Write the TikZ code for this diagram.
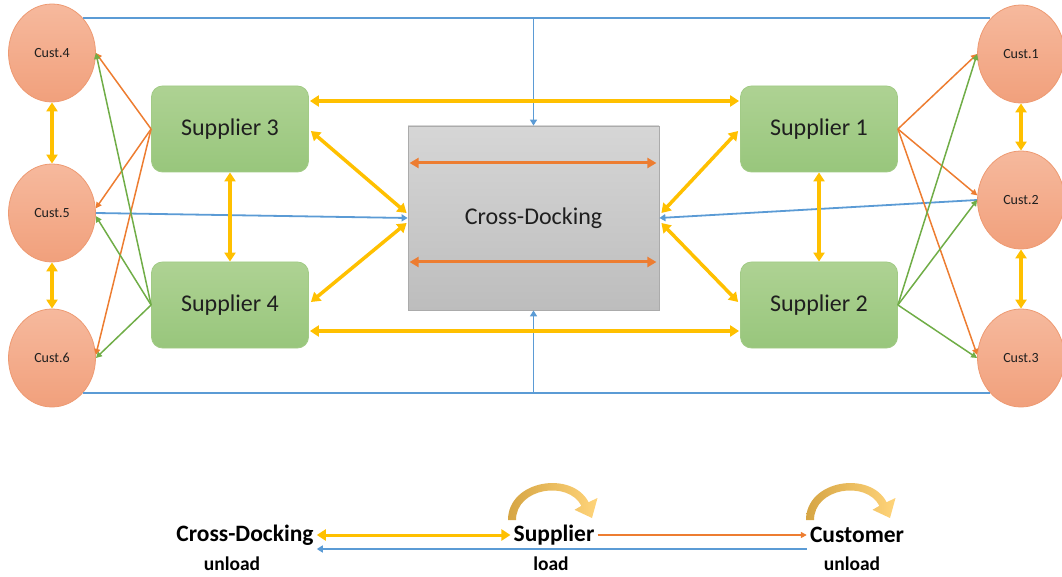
\documentclass[tikz,border=0pt]{standalone}
\usepackage{fontspec}
\setmainfont{Carlito}
\usetikzlibrary{arrows.meta,shapes.geometric,calc}

\definecolor{ylw}{HTML}{FFC000}
\definecolor{org}{HTML}{ED7D31}
\definecolor{grn}{HTML}{70AD47}
\definecolor{blu}{HTML}{5B9BD5}
\definecolor{custtop}{HTML}{F6B99D}
\definecolor{custbot}{HTML}{F1A07C}
\definecolor{custline}{HTML}{EE9A72}
\definecolor{supptop}{HTML}{AED293}
\definecolor{suppbot}{HTML}{98C67C}
\definecolor{suppline}{HTML}{A2CB86}
\definecolor{docktop}{HTML}{D6D6D6}
\definecolor{dockbot}{HTML}{BDBDBD}
\definecolor{dockline}{HTML}{ABABAB}
\definecolor{arcL}{HTML}{D6A544}
\definecolor{arcR}{HTML}{FFD47A}
\definecolor{txt}{HTML}{1F1F1F}

\tikzset{
  cust/.style={ellipse, minimum width=87pt, minimum height=98pt, inner sep=0pt,
    draw=custline, line width=0.8pt, top color=custtop, bottom color=custbot,
    text=txt, font=\fontsize{14}{14}\selectfont},
  supp/.style={rectangle, rounded corners=11pt, minimum width=157pt, minimum height=86pt,
    draw=suppline, line width=0.8pt, top color=supptop, bottom color=suppbot,
    text=txt, font=\fontsize{24}{24}\selectfont},
  dock/.style={rectangle, minimum width=251pt, minimum height=184pt,
    draw=dockline, line width=0.8pt, top color=docktop, bottom color=dockbot,
    text=txt, font=\fontsize{24}{24}\selectfont},
  leg/.style={inner sep=3pt, text=black, font=\fontsize{23.5}{23.5}\selectfont\bfseries},
  legsub/.style={inner sep=0pt, text=black, font=\fontsize{19.5}{19.5}\selectfont\bfseries},
  ya/.style={draw=ylw, line width=3.5pt,
    {Triangle[width=11pt,length=9pt]}-{Triangle[width=11pt,length=9pt]}},
  oa/.style={draw=org, line width=3pt,
    {Triangle[width=10pt,length=9pt]}-{Triangle[width=10pt,length=9pt]}},
  thin/.style={line width=1.5pt, -{Triangle[width=6pt,length=6pt]}},
  or/.style={thin, draw=org},
  gr/.style={thin, draw=grn},
  bl/.style={draw=blu, line width=1.8pt},
  blarrow/.style={bl, -{Triangle[width=7pt,length=6pt]}},
  turn/.pic={
    \path[left color=arcL, right color=arcR]
      (-4,0) .. controls (-4,-40) and (60,-50) .. (76.6,-17.8)
      -- (85.5,-22) -- (80,-2) -- (62.5,-10.2) -- (69.4,-14.2)
      .. controls (56,-40) and (4,-32) .. (4,0) -- cycle;
  }
}

\begin{document}
\begin{tikzpicture}[x=1pt, y=-1pt]
\useasboundingbox (0,0) rectangle (1062,577);

% customers
\node[cust] (c4) at (52,53)  {Cust.4};
\node[cust] (c5) at (52,213) {Cust.5};
\node[cust] (c6) at (52,358) {Cust.6};
\node[cust] (c1) at (1021,54)  {Cust.1};
\node[cust] (c2) at (1021,200) {Cust.2};
\node[cust] (c3) at (1021,358) {Cust.3};

% suppliers and the cross-dock
\node[supp] (s3) at (230,129) {Supplier 3};
\node[supp] (s4) at (230,305) {Supplier 4};
\node[supp] (s1) at (819,129) {Supplier 1};
\node[supp] (s2) at (819,305) {Supplier 2};
\node[dock] (cd) at (533.5,218) {Cross-Docking};

% blue return lines
\draw[bl] (c4.north east) -- (c4.north east -| c1.north west);
\coordinate (tj) at (cd.north |- c4.north east);
\draw[blarrow] (tj) -- (cd.north);
\draw[bl] (c6.south east) -- (c6.south east -| c3.south west);
\coordinate (bj) at (cd.south |- c6.south east);
\draw[blarrow] (bj) -- (cd.south);
\draw[blarrow] (c5.east) -- (cd.west);
\draw[blarrow] (c2.west) -- (cd.east);

% yellow two-way links
\draw[ya] ($(s3.east)+(1,-28)$) -- ($(s1.west)+(-1,-28)$);
\draw[ya] ($(s4.east)+(1,26)$) -- ($(s2.west)+(-1,26)$);
\draw[ya] ($(s3.east)+(2,2)$) -- ($(cd.west)+(-1,-5)$);
\draw[ya] ($(s4.east)+(2,-3)$) -- ($(cd.west)+(-1,5)$);
\draw[ya] ($(s1.west)+(-2,2)$) -- ($(cd.east)+(2,-5)$);
\draw[ya] ($(s2.west)+(-2,-3)$) -- ($(cd.east)+(2,5)$);
\draw[ya] (s3.south) -- (s4.north);
\draw[ya] (s1.south) -- (s2.north);
\draw[ya] (c4.south) -- (c5.north);
\draw[ya] (c5.south) -- (c6.north);
\draw[ya] (c1.south) -- (c2.north);
\draw[ya] (c2.south) -- (c3.north);

% flows inside the cross-dock
\draw[oa] ($(cd.west)+(2,-55)$) -- ($(cd.east)+(-3,-55)$);
\draw[oa] ($(cd.west)+(2,44)$) -- ($(cd.east)+(-3,44)$);

% supplier to customer deliveries
\draw[or] (s3.west) -- (c4.east);
\draw[or] (s3.west) -- (c5.6);
\draw[or] (s3.west) -- (c6.4);
\draw[gr] (s4.west) -- (c4.east);
\draw[gr] (s4.west) -- (c5.-4);
\draw[gr] (s4.west) -- (c6.east);
\draw[or] (s1.east) -- (c1.west);
\draw[or] (s1.east) -- (c2.174);
\draw[or] (s1.east) -- (c3.176);
\draw[gr] (s2.east) -- (c1.west);
\draw[gr] (s2.east) -- (c2.west);
\draw[gr] (s2.east) -- (c3.west);

% legend
\node[leg] (lcd) at (245,535) {Cross-Docking};
\node[leg] (lsu) at (554,535) {Supplier};
\node[leg] (lcu) at (857,535) {Customer};
\node[legsub] (lun1) at (232,564) {unload};
\node[legsub] (llo) at (551,564) {load};
\node[legsub] (lun2) at (852,564) {unload};
\draw[ya, line width=3pt] (lcd.east) -- (lsu.west);
\draw[or] (lsu.east) -- (lcu.west);
\draw[blarrow] ($(lcu.west)+(0,14)$) -- ($(lcd.east)+(0,14)$);
\pic at (512,520) {turn};
\pic at (810,520) {turn};
\end{tikzpicture}
\end{document}
